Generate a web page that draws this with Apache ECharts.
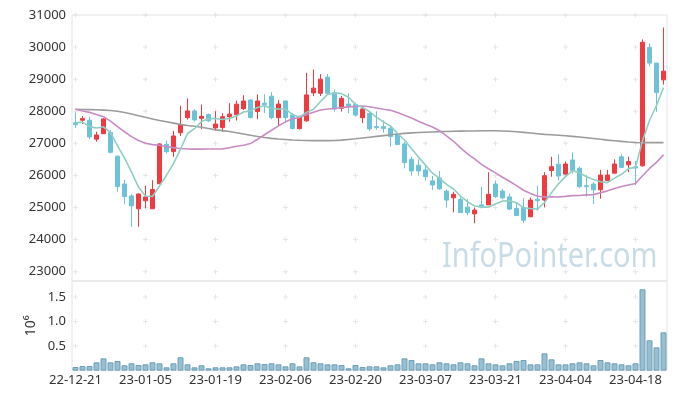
<!DOCTYPE html>
<html><head><meta charset="utf-8">
<script src="https://cdn.jsdelivr.net/npm/echarts@6/dist/echarts.min.js"></script>
<style>html,body{margin:0;padding:0;background:#fff}#c{width:677px;height:399px}</style>
</head><body><div id="c"></div>
<script>
const dates = ['22-12-21','22-12-22','22-12-23','22-12-26','22-12-27','22-12-28','22-12-29',
'23-01-02','23-01-03','23-01-04','23-01-05','23-01-06','23-01-09','23-01-10','23-01-11','23-01-12','23-01-13','23-01-16','23-01-17','23-01-18','23-01-19','23-01-20','23-01-25','23-01-26','23-01-27','23-01-30','23-01-31',
'23-02-01','23-02-02','23-02-03','23-02-06','23-02-07','23-02-08','23-02-09','23-02-10','23-02-13','23-02-14','23-02-15','23-02-16','23-02-17','23-02-20','23-02-21','23-02-22','23-02-23','23-02-24','23-02-27','23-02-28',
'23-03-02','23-03-03','23-03-06','23-03-07','23-03-08','23-03-09','23-03-10','23-03-13','23-03-14','23-03-15','23-03-16','23-03-17','23-03-20','23-03-21','23-03-22','23-03-23','23-03-24','23-03-27','23-03-28','23-03-29','23-03-30','23-03-31',
'23-04-03','23-04-04','23-04-05','23-04-06','23-04-07','23-04-10','23-04-11','23-04-12','23-04-13','23-04-14','23-04-17','23-04-18','23-04-19','23-04-20','23-04-21','23-04-24'];

const opens = [27640,27720,27720,27130,27300,27340,26600,25730,25360,24960,25210,24960,25740,26970,26740,27330,27800,28010,27780,27900,
27480,27490,27830,27890,28080,28350,27990,28250,28470,27800,28320,27880,27460,27700,28570,28560,29060,28580,28090,28225,
28210,27800,27930,27520,27520,27470,27290,26980,26500,26320,26170,25830,25920,25510,25300,25250,25010,24800,25080,25080,
25730,25510,25330,24970,25000,24710,25260,25230,26150,26350,26040,26480,26220,25680,25730,25550,25840,26070,26580,26330,
26270,26300,29990,29500,28980];
const closes = [27580,27770,27200,27260,27760,26720,25650,25340,25050,25420,25330,25560,26980,26740,27230,27570,28010,27730,27840,27700,
27600,27830,27910,28220,28320,27800,28320,28200,27800,28225,27800,27460,27830,28510,28720,29000,28560,28070,28400,28160,
27880,28070,27450,27490,27460,27210,26960,26400,26140,26140,25960,25700,25580,25230,25410,24840,24840,24920,25040,25410,
25340,25300,24950,24750,24600,25230,25210,25990,26270,25980,26355,26150,25650,25650,25550,26010,26010,26355,26250,26430,
26230,30150,29500,28580,29250];
const lows = [27480,27600,27130,27050,27290,26690,25490,25100,24400,24400,24980,24960,25730,26680,26580,27230,27740,27680,27440,27670,
27400,27360,27670,27710,28040,27780,27750,27940,27750,27570,27640,27430,27430,27670,28470,28475,28540,27990,27990,27940,
27830,27630,27390,27420,27330,26900,26950,26220,25990,25990,25840,25550,25550,24990,24850,24830,24760,24510,24970,25080,
25300,25250,24920,24740,24510,24700,24900,25000,25960,25840,26010,26060,25600,25340,25110,25270,25820,26060,26240,26100,
25700,26270,29400,27980,28830];
const highs = [27950,27850,27820,27360,27780,27420,26610,25860,25420,25440,25680,25850,27000,27080,27390,28170,28400,28070,28210,27930,
28000,27940,28250,28330,28500,28370,28520,28530,28590,28350,28340,27950,27860,29200,29300,29160,29160,28680,28475,28560,
28270,28160,28010,28000,27720,27570,27330,27050,26580,26500,26290,25980,26140,25570,25490,25320,25260,25000,25650,26100,
25840,25570,25440,25150,25290,25310,25680,26100,26580,26660,26430,26720,26270,26010,25790,26170,26170,26500,26660,26580,
26450,30240,30120,29510,30610];

const volumes = [73000,94000,94000,169000,250000,169000,196000,108000,149000,114000,128000,169000,149000,67000,149000,271000,128000,67000,108000,47000,
67000,67000,67000,87000,128000,114000,149000,135000,149000,128000,87000,149000,87000,271000,169000,149000,128000,128000,114000,47000,
114000,73000,87000,87000,67000,108000,128000,250000,216000,149000,149000,128000,169000,149000,128000,169000,149000,108000,250000,149000,
128000,108000,149000,196000,216000,128000,128000,352000,230000,128000,128000,149000,169000,149000,108000,216000,169000,149000,128000,108000,
149000,1659000,618000,475000,781000];

const ma5 = [27640,27660,27520,27480,27514,27342,26918,26546,26104,25636,25358,25340,25668,26006,26368,26816,27306,27456,27676,27770,
27776,27740,27776,27852,27976,28016,28114,28172,28088,28069,28069,27897,27823,27965,28064,28304,28524,28572,28550,28438,
28214,28116,27992,27810,27670,27536,27314,27104,26834,26570,26320,26068,25904,25722,25576,25352,25180,25048,25010,25010,
25110,25202,25208,25150,24988,24966,24948,25156,25460,25736,25961,26149,26081,25957,25871,25802,25774,25915,26035,26211,
26255,27083,27712,28178,28742];
const ma20 = [28060,28010,27965,27900,27830,27690,27520,27360,27210,27090,27000,26960,26940,26900,26865,26840,26825,26820,26820,26822,
26823,26826,26862,26910,26938,26992,27125,27268,27406,27546,27669,27764,27807,27895,27970,28041,28069,28086,28114,28137,
28151,28163,28140,28103,28060,28031,27963,27873,27790,27686,27594,27506,27393,27229,27064,26856,26670,26512,26344,26207,
26080,25941,25816,25679,25536,25437,25350,25329,25336,25328,25347,25370,25373,25394,25401,25460,25518,25590,25651,25702,
25746,25989,26216,26408,26640];
const ma60 = [28060,28055,28050,28045,28035,28025,28000,27960,27915,27860,27810,27760,27710,27670,27630,27590,27555,27530,27500,27460,
27420,27395,27370,27330,27290,27250,27215,27180,27155,27135,27120,27105,27095,27090,27085,27085,27085,27090,27100,27120,
27140,27165,27190,27215,27240,27265,27290,27310,27325,27335,27345,27355,27365,27370,27375,27380,27385,27385,27390,27390,
27390,27385,27375,27360,27340,27320,27300,27280,27265,27250,27235,27215,27195,27175,27150,27125,27100,27080,27060,27040,
27025,27020,27020,27020,27020];

const priceTicks = [23000,24000,25000,26000,27000,28000,29000,30000,31000];
const volumeTicks = [500000,1000000,1500000];
const labelStep = 10;

const UP = '#ef3a40', DOWN = '#6cc3d8';
const FONT = 'Noto Sans';

const candleData = opens.map((o, i) => [o, closes[i], lows[i], highs[i]]);
const labelIdx = dates.map((d, i) => i).filter(i => i % labelStep === 0);
const crossMain = [], crossVol = [];
labelIdx.forEach(x => {
  priceTicks.forEach(y => crossMain.push([x, y]));
  volumeTicks.forEach(y => crossVol.push([x, y]));
});
const plusPath = 'path://M2,0 H3 V2 H5 V3 H3 V5 H2 V3 H0 V2 H2 Z';

const chart = echarts.init(document.getElementById('c'), null, {renderer: 'canvas'});
chart.setOption({
  animation: false,
  backgroundColor: '#fff',
  textStyle: {fontFamily: FONT},
  grid: [
    {left: 72, right: 10, top: 15, height: 266, show: true, borderColor: '#e4e4e4', borderWidth: 1},
    {left: 72, right: 10, top: 281, height: 89.6, show: true, borderColor: '#e4e4e4', borderWidth: 1}
  ],
  xAxis: [
    {type: 'category', gridIndex: 0, data: dates, boundaryGap: true,
     axisLine: {show: false}, axisTick: {show: false}, axisLabel: {show: false}, splitLine: {show: false}},
    {type: 'category', gridIndex: 1, data: dates, boundaryGap: true,
     axisLine: {show: false}, axisTick: {show: false}, splitLine: {show: false},
     axisLabel: {interval: (i) => i % labelStep === 0, color: '#333', fontSize: 13, margin: 3, fontFamily: FONT}}
  ],
  yAxis: [
    {type: 'value', gridIndex: 0, min: 22708, max: 31000, scale: true,
     axisLine: {show: false}, axisTick: {show: false}, splitLine: {show: false},
     axisLabel: {customValues: priceTicks, color: '#333', fontSize: 13, margin: 6, fontFamily: FONT,
                 formatter: v => String(v)}},
    {type: 'value', gridIndex: 1, min: 0, max: 1829000,
     axisLine: {show: false}, axisTick: {show: false}, splitLine: {show: false},
     axisLabel: {customValues: volumeTicks, color: '#333', fontSize: 13, margin: 6, fontFamily: FONT,
                 formatter: v => (v / 1e6).toFixed(1)},
     name: '10\u2076', nameLocation: 'middle', nameRotate: 90, nameGap: 34, nameMoveOverlap: false,
     nameTextStyle: {color: '#333', fontSize: 14, fontFamily: FONT}}
  ],
  series: [
    {type: 'scatter', xAxisIndex: 0, yAxisIndex: 0, data: crossMain, symbol: plusPath, symbolSize: 5,
     itemStyle: {color: '#e0e0e0'}, silent: true, z: 1},
    {type: 'scatter', xAxisIndex: 1, yAxisIndex: 1, data: crossVol, symbol: plusPath, symbolSize: 5,
     itemStyle: {color: '#e0e0e0'}, silent: true, z: 1},
    {type: 'candlestick', name: 'price', xAxisIndex: 0, yAxisIndex: 0, data: candleData, barWidth: 5,
     itemStyle: {color: UP, color0: DOWN, borderColor: UP, borderColor0: DOWN, borderWidth: 1}, z: 2},
    {type: 'line', name: 'MA60', xAxisIndex: 0, yAxisIndex: 0, data: ma60, symbol: 'none',
     lineStyle: {color: '#9b9b9b', width: 1.6}, z: 3},
    {type: 'line', name: 'MA20', xAxisIndex: 0, yAxisIndex: 0, data: ma20, symbol: 'none',
     lineStyle: {color: '#c98bc4', width: 1.6}, z: 3},
    {type: 'line', name: 'MA5', xAxisIndex: 0, yAxisIndex: 0, data: ma5, symbol: 'none',
     lineStyle: {color: '#8fcfc3', width: 1.6}, z: 3},
    {type: 'bar', name: 'volume', xAxisIndex: 1, yAxisIndex: 1, data: volumes, barWidth: 6,
     itemStyle: {color: '#97bfd1', borderColor: '#6d9fb7', borderWidth: 1}, z: 2}
  ],
  graphic: [
    {type: 'text', left: 442, top: 240, z: 0, silent: true,
     style: {text: 'InfoPointer.com', fill: '#c9dce6', fontSize: 34, fontFamily: FONT},
     scaleX: 0.85}
  ]
});
</script></body></html>
